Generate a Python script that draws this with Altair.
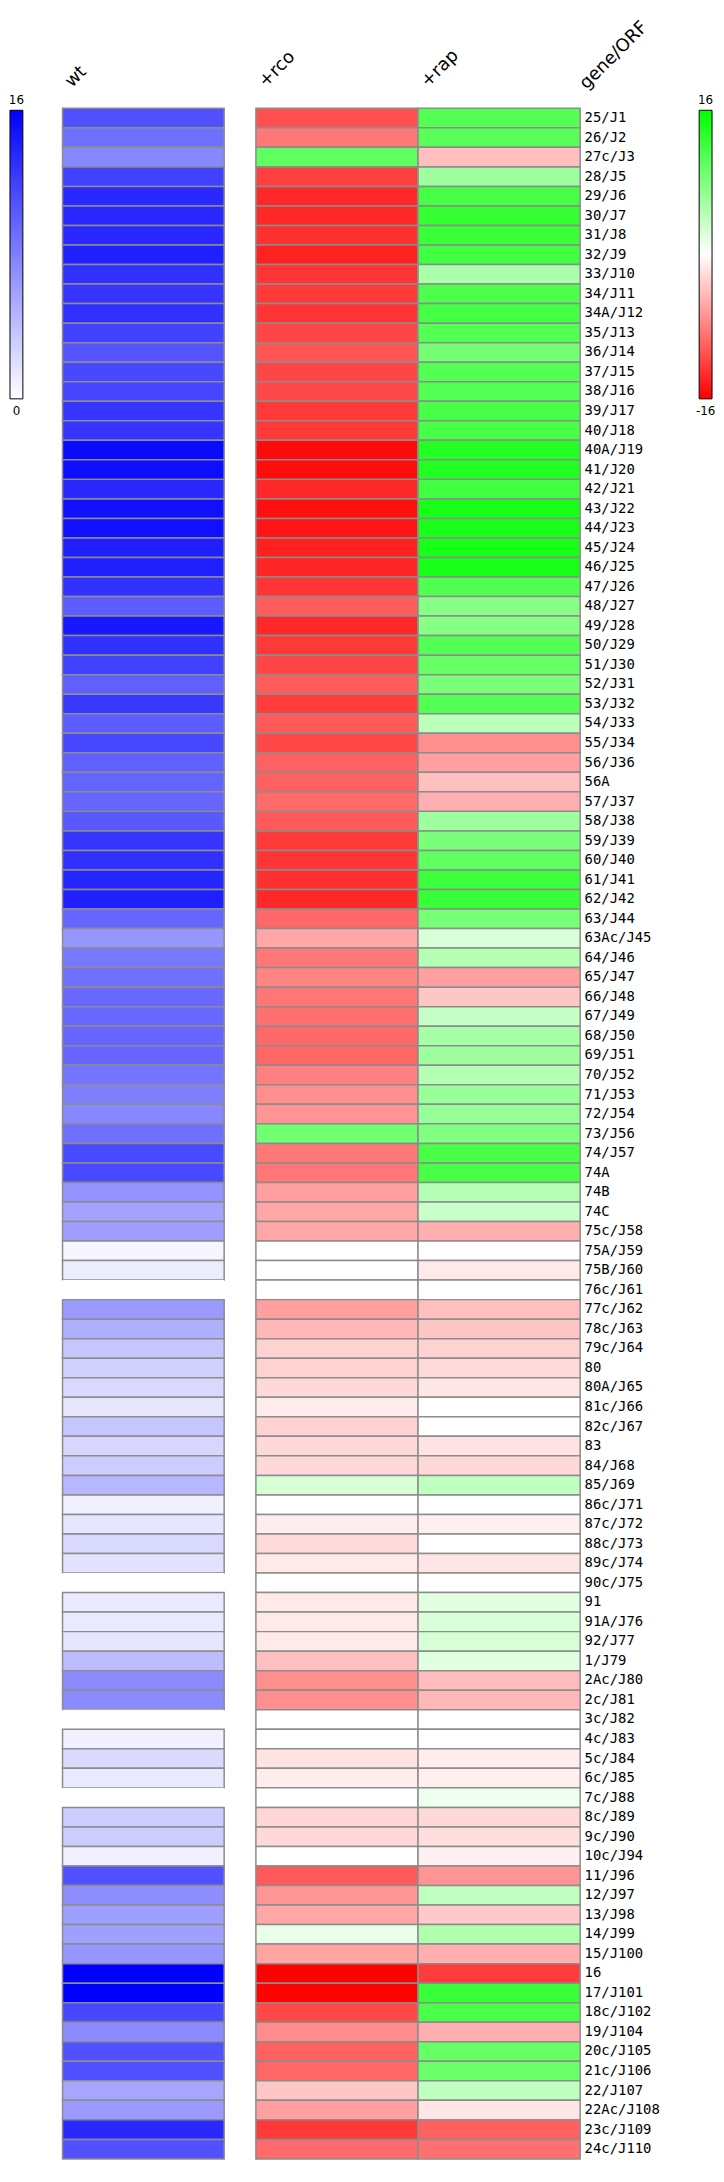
import altair as alt
import pandas as pd

genes = ["25/J1", "26/J2", "27c/J3", "28/J5", "29/J6", "30/J7", "31/J8", "32/J9", "33/J10", "34/J11",
         "34A/J12", "35/J13", "36/J14", "37/J15", "38/J16", "39/J17", "40/J18", "40A/J19", "41/J20", "42/J21",
         "43/J22", "44/J23", "45/J24", "46/J25", "47/J26", "48/J27", "49/J28", "50/J29", "51/J30", "52/J31",
         "53/J32", "54/J33", "55/J34", "56/J36", "56A", "57/J37", "58/J38", "59/J39", "60/J40", "61/J41",
         "62/J42", "63/J44", "63Ac/J45", "64/J46", "65/J47", "66/J48", "67/J49", "68/J50", "69/J51", "70/J52",
         "71/J53", "72/J54", "73/J56", "74/J57", "74A", "74B", "74C", "75c/J58", "75A/J59", "75B/J60",
         "76c/J61", "77c/J62", "78c/J63", "79c/J64", "80", "80A/J65", "81c/J66", "82c/J67", "83", "84/J68",
         "85/J69", "86c/J71", "87c/J72", "88c/J73", "89c/J74", "90c/J75", "91", "91A/J76", "92/J77", "1/J79",
         "2Ac/J80", "2c/J81", "3c/J82", "4c/J83", "5c/J84", "6c/J85", "7c/J88", "8c/J89", "9c/J90", "10c/J94",
         "11/J96", "12/J97", "13/J98", "14/J99", "15/J100", "16", "17/J101", "18c/J102", "19/J104", "20c/J105",
         "21c/J106", "22/J107", "22Ac/J108", "23c/J109", "24c/J110"]

wt = [11, 9, 7.5, 12, 13.5, 13.5, 13.5, 14, 13, 12.7, 13, 11.9, 10.7, 11.5, 11.7, 12.7, 12.7, 15.4,
      15.2, 13.5, 15, 15, 14, 14, 13, 10.2, 14.5, 13, 12, 10, 12.5, 10.2, 11.5, 10, 9.7, 9.6,
      10.4, 12.7, 13, 13.7, 14, 9.6, 6.6, 8.5, 9, 9.5, 9.5, 9.6, 9.6, 8.7, 8, 7.5, 9,
      11.4, 11.4, 6.8, 5.8, 6, 0.6, 1.2, 0, 6.3, 5, 3.6, 2.9, 2.4, 1.6, 3.6, 2.6, 3.2, 4.5,
      0.9, 1.6, 2.4, 1.8, 0, 1.4, 1.4, 1.6, 4.2, 7.3, 7.3, 0, 0.9, 2.3, 1.4, 0, 3.2, 3.2,
      0.9, 11, 7.1, 6, 6, 6.6, 16, 16, 11.5, 7.3, 11, 11, 5.6, 6.3, 13.5, 11]

rco = [-11, -8.5, 10, -12, -13.5, -13.5, -13, -14, -12.7, -12.5, -12.7, -11.6, -10.7, -11.6, -11.5, -12.5, -12.5, -15.4,
       -15.2, -13.5, -15, -14.7, -14, -13.7, -12.7, -10.2, -13.5, -12.5, -11.6, -10.2, -12.3, -10.4, -11.5, -10, -10, -9.3,
       -10.4, -12.5, -12.7, -13, -13.5, -9.5, -5.5, -8.5, -7.7, -8.6, -9, -9.5, -9.6, -8, -7, -6.7, 9,
       -8.5, -8.6, -6, -5.6, -5.6, 0, 0, 0, -6, -4.5, -2.8, -2.8, -2.4, -1.1, -2.8, -2.4, -2.4, 2.6,
       0, -1.2, -2.3, -1.4, 0, -1.4, -1.4, -1.4, -4, -7, -7, 0, 0, -1.8, -1.2, 0, -2.6, -2.4,
       0, -10.4, -6.7, -5.5, 1.4, -5.8, -16, -15.9, -11.4, -7.2, -10, -9.6, -3.6, -6, -12.5, -9.3]

rap = [10.7, 10.5, -4, 6, 11.7, 12.8, 12.5, 12, 5.3, 11.2, 11.7, 10.7, 8.6, 10.7, 10.7, 11.5, 11.5, 13.8,
       14, 12, 14.5, 14.5, 14.5, 14.5, 11, 7.5, 7.5, 10.7, 9.6, 8.3, 10.7, 4.3, -7, -6, -4, -5,
       6, 8.3, 10, 12.3, 12.5, 8.5, 2.4, 4.7, -6, -3.6, 3.6, 5.6, 6, 4.7, 6.4, 6.5, 8,
       11.5, 11.5, 4.7, 3.4, -5, 0, -1.4, 0, -4, -3.6, -2.8, -2.3, -1.6, 0, 0, -1.8, -2.4, 4,
       0, -1, 0, -1.6, 0, 1.8, 2.4, 2.6, 1.9, -4.2, -4.5, 0, 0, -1.2, -1, 1, -2.4, -2.1,
       -0.9, -6.7, 4, -3.4, 5, -5, -12.3, 12.5, 11.4, -5, 9.6, 9.3, 4, -1.6, -10, -9]

wt_columns = ["wt"]
cond_columns = ["+rco", "+rap"]
wt_ticks = [0, 16]
cond_ticks = [-16, 16]

df_wt = pd.DataFrame({"gene": genes, "column": "wt", "value": wt})
df_cond = pd.concat([
    pd.DataFrame({"gene": genes, "column": "+rco", "value": rco}),
    pd.DataFrame({"gene": genes, "column": "+rap", "value": rap}),
], ignore_index=True)

H = 2068
CELL_STROKE = "#8c8c8c"


def header_axis():
    return alt.Axis(orient="top", labelAngle=315, labelAlign="left", labelBaseline="alphabetic",
                    labelOffset=-72, labelPadding=21, ticks=False, tickSize=0,
                    domain=False, labelFont="DejaVu Sans", labelFontSize=18, labelColor="black")


def legend_layers(ticks, stops, x0):
    """Colour bar drawn as a gradient rect with its end values above and below."""
    bar_df = pd.DataFrame({"lo": [ticks[0]], "hi": [ticks[-1]]})
    lab_df = pd.DataFrame({"v": ticks, "label": [str(t) for t in ticks]})
    yscale = alt.Scale(domain=[ticks[0], ticks[-1]], range=[293, 2])
    bar = alt.Chart(bar_df).mark_rect(
        fill=alt.Gradient(gradient="linear", stops=stops, x1=0, x2=0, y1=1, y2=0),
        stroke="black", strokeWidth=1,
    ).encode(
        x=alt.value(x0), x2=alt.value(x0 + 13),
        y=alt.Y("lo:Q", scale=yscale, axis=None), y2="hi:Q",
    )
    top = alt.Chart(lab_df).transform_filter(f"datum.v == {ticks[-1]}").mark_text(
        font="DejaVu Sans", fontSize=12, color="black", baseline="middle", dy=-10,
    ).encode(x=alt.value(x0 + 6.5), y=alt.Y("v:Q", scale=yscale, axis=None), text="label:N")
    bottom = alt.Chart(lab_df).transform_filter(f"datum.v == {ticks[0]}").mark_text(
        font="DejaVu Sans", fontSize=12, color="black", baseline="middle", dy=12,
    ).encode(x=alt.value(x0 + 6.5), y=alt.Y("v:Q", scale=yscale, axis=None), text="label:N")
    return [bar, top, bottom]


wt_heat = alt.Chart(df_wt).mark_rect(stroke=CELL_STROKE, strokeWidth=1.5).encode(
    x=alt.X("column:N", sort=wt_columns, title=None, axis=header_axis(),
            scale=alt.Scale(paddingInner=0, paddingOuter=0)),
    y=alt.Y("gene:N", sort=genes, axis=None, scale=alt.Scale(paddingInner=0, paddingOuter=0)),
    color=alt.Color("value:Q",
                    scale=alt.Scale(domain=[0, 16], range=["#ffffff", "#0000ff"], interpolate="rgb"),
                    legend=None),
    strokeOpacity=alt.condition("datum.value == 0", alt.value(0), alt.value(1)),
)

cond_heat = alt.Chart(df_cond).mark_rect(stroke=CELL_STROKE, strokeWidth=1.5).encode(
    x=alt.X("column:N", sort=cond_columns, title=None, axis=header_axis(),
            scale=alt.Scale(paddingInner=0, paddingOuter=0)),
    y=alt.Y("gene:N", sort=genes, title="gene/ORF",
            scale=alt.Scale(paddingInner=0, paddingOuter=0),
            axis=alt.Axis(orient="right", ticks=False, tickSize=0, domain=False,
                          labelFont="DejaVu Sans Mono", labelFontSize=14, labelColor="black",
                          labelPadding=4, titleAngle=315, titleAlign="left",
                          titleBaseline="alphabetic", titleX=6, titleY=-19,
                          titleFont="DejaVu Sans", titleFontSize=18, titleFontWeight="normal",
                          titleColor="black")),
    color=alt.Color("value:Q",
                    scale=alt.Scale(domain=[-16, 0, 16], range=["#ff0000", "#ffffff", "#00ff00"],
                                    interpolate="rgb"),
                    legend=None),
)

wt_stops = [alt.GradientStop(color="#ffffff", offset=0), alt.GradientStop(color="#0000ff", offset=1)]
cond_stops = [alt.GradientStop(color="#ff0000", offset=0), alt.GradientStop(color="#ffffff", offset=0.5),
              alt.GradientStop(color="#00ff00", offset=1)]

left = alt.layer(wt_heat, *legend_layers(wt_ticks, wt_stops, -53)).resolve_scale(
    y="independent").properties(width=163, height=H)
right = alt.layer(cond_heat, *legend_layers(cond_ticks, cond_stops, 447)).resolve_scale(
    y="independent").properties(width=327, height=H)

chart = alt.hconcat(left, right, spacing=32, bounds="flush").resolve_scale(
    color="independent").properties(
    padding={"left": 0, "top": 0, "right": 0, "bottom": 0},
    background="white",
).configure_view(stroke=None).configure_axis(grid=False)

chart.save("out.html", embed_options={"renderer": "svg", "actions": False})
